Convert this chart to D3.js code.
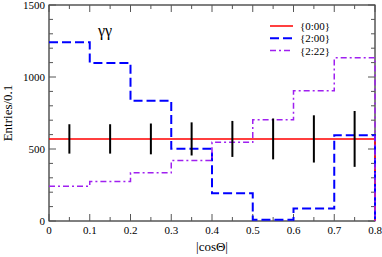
<!DOCTYPE html>
<html>
<head>
<meta charset="utf-8">
<script src="https://cdn.jsdelivr.net/npm/d3@7"></script>
<style>
  body { margin: 0; background: #fff; }
  text { font-family: "Liberation Serif", "DejaVu Serif", serif; }
</style>
</head>
<body>
<div id="chart"></div>
<script>
// bin edges of |cos theta| and the three spin hypotheses
var binEdges = [0, 0.1, 0.2, 0.3, 0.4, 0.5, 0.6, 0.7, 0.8];
var spin0 = [570, 570, 570, 570, 570, 570, 570, 570];
var spin2 = [1241, 1098, 835, 501, 193, 8, 87, 596];
var spin2b = [242, 274, 335, 420, 547, 703, 904, 1133];
// pseudo-data points with errors
var dataX = [0.05, 0.15, 0.25, 0.35, 0.45, 0.55, 0.65, 0.75];
var dataY = [570, 570, 570, 570, 570, 570, 570, 570];
var dataErr = [102, 102, 107, 115, 125, 142, 164, 194];
var legendLabels = ["{0:00}", "{2:00}", "{2:22}"];
var xTicks = [0, 0.1, 0.2, 0.3, 0.4, 0.5, 0.6, 0.7, 0.8];
var yTicks = [0, 500, 1000, 1500];

var W = 382, H = 257;
var m = {left: 49, right: 7, top: 5, bottom: 36};

var svg = d3.select("#chart").append("svg")
  .attr("width", W).attr("height", H);

var x = d3.scaleLinear().domain([0, 0.8]).range([m.left, W - m.right]);
var y = d3.scaleLinear().domain([0, 1500]).range([H - m.bottom, m.top]);

// histogram outline as a step path
function steps(vals) {
  var pts = [];
  vals.forEach(function(v, i) {
    pts.push([binEdges[i], v]);
    pts.push([binEdges[i + 1], v]);
  });
  pts.push([binEdges[binEdges.length - 1], 0]);
  return pts;
}
var line = d3.line().x(function(d) { return x(d[0]); }).y(function(d) { return y(d[1]); });

// frame
svg.append("rect")
  .attr("x", x(0)).attr("y", y(1500))
  .attr("width", x(0.8) - x(0)).attr("height", y(0) - y(1500))
  .attr("fill", "none").attr("stroke", "#000").attr("stroke-width", 1);

// inward ticks on all four sides
var xMinor = d3.range(0, 0.8001, 0.05);
var yMinor = d3.range(0, 1500.1, 100);
function isMajorX(v) { return Math.abs(v * 10 - Math.round(v * 10)) < 1e-6; }
var tk = svg.append("g").attr("stroke", "#555").attr("stroke-width", 1);
xMinor.forEach(function(v) {
  var len = isMajorX(v) ? 7 : 4;
  tk.append("line").attr("x1", x(v)).attr("x2", x(v)).attr("y1", y(0)).attr("y2", y(0) - len);
  tk.append("line").attr("x1", x(v)).attr("x2", x(v)).attr("y1", y(1500)).attr("y2", y(1500) + len);
});
yMinor.forEach(function(v) {
  var len = (Math.round(v) % 500 === 0) ? 7 : 4;
  tk.append("line").attr("x1", x(0)).attr("x2", x(0) + len).attr("y1", y(v)).attr("y2", y(v));
  tk.append("line").attr("x1", x(0.8)).attr("x2", x(0.8) - len).attr("y1", y(v)).attr("y2", y(v));
});

// tick labels
svg.append("g").selectAll("text").data(xTicks).enter().append("text")
  .attr("x", function(d) { return x(d); }).attr("y", y(0) + 13)
  .attr("text-anchor", "middle").attr("font-size", 11)
  .text(function(d) { return d === 0 ? "0" : d3.format(".1f")(d); });
svg.append("g").selectAll("text").data(yTicks).enter().append("text")
  .attr("x", x(0) - 4).attr("y", function(d) { return y(d) + 4; })
  .attr("text-anchor", "end").attr("font-size", 11)
  .text(function(d) { return d; });

// axis titles
svg.append("text").attr("x", (x(0) + x(0.8)) / 2).attr("y", 251)
  .attr("text-anchor", "middle").attr("font-size", 13).text("|cosΘ|");
svg.append("text").attr("transform", "translate(12," + ((y(0) + y(1500)) / 2) + ") rotate(-90)")
  .attr("text-anchor", "middle").attr("font-size", 13).text("Entries/0.1");

// histograms
var series = [
  {vals: spin0, color: "#ff0000", width: 1.5, dash: null},
  {vals: spin2, color: "#0000ff", width: 2, dash: "9,4"},
  {vals: spin2b, color: "#a020f0", width: 1.5, dash: "6,3,2,3"}
];
series.forEach(function(s) {
  svg.append("path").datum(steps(s.vals))
    .attr("d", line).attr("fill", "none")
    .attr("stroke", s.color).attr("stroke-width", s.width)
    .attr("stroke-dasharray", s.dash);
});

// error bars
svg.append("g").selectAll("line").data(dataX).enter().append("line")
  .attr("x1", function(d) { return x(d); }).attr("x2", function(d) { return x(d); })
  .attr("y1", function(d, i) { return y(dataY[i] - dataErr[i]); })
  .attr("y2", function(d, i) { return y(dataY[i] + dataErr[i]); })
  .attr("stroke", "#000").attr("stroke-width", 2);

// gamma gamma label
svg.append("text").attr("x", 98).attr("y", 36)
  .attr("font-size", 16).attr("font-family", "DejaVu Sans").text("γγ");

// legend
var lg = svg.append("g");
series.forEach(function(s, i) {
  var ly = 26 + i * 12.3;
  lg.append("line").attr("x1", 270).attr("x2", 293).attr("y1", ly).attr("y2", ly)
    .attr("stroke", s.color).attr("stroke-width", s.width)
    .attr("stroke-dasharray", s.dash);
  lg.append("text").attr("x", 300).attr("y", ly + 4).attr("font-size", 11)
    .text(legendLabels[i]);
});
</script>
</body>
</html>
